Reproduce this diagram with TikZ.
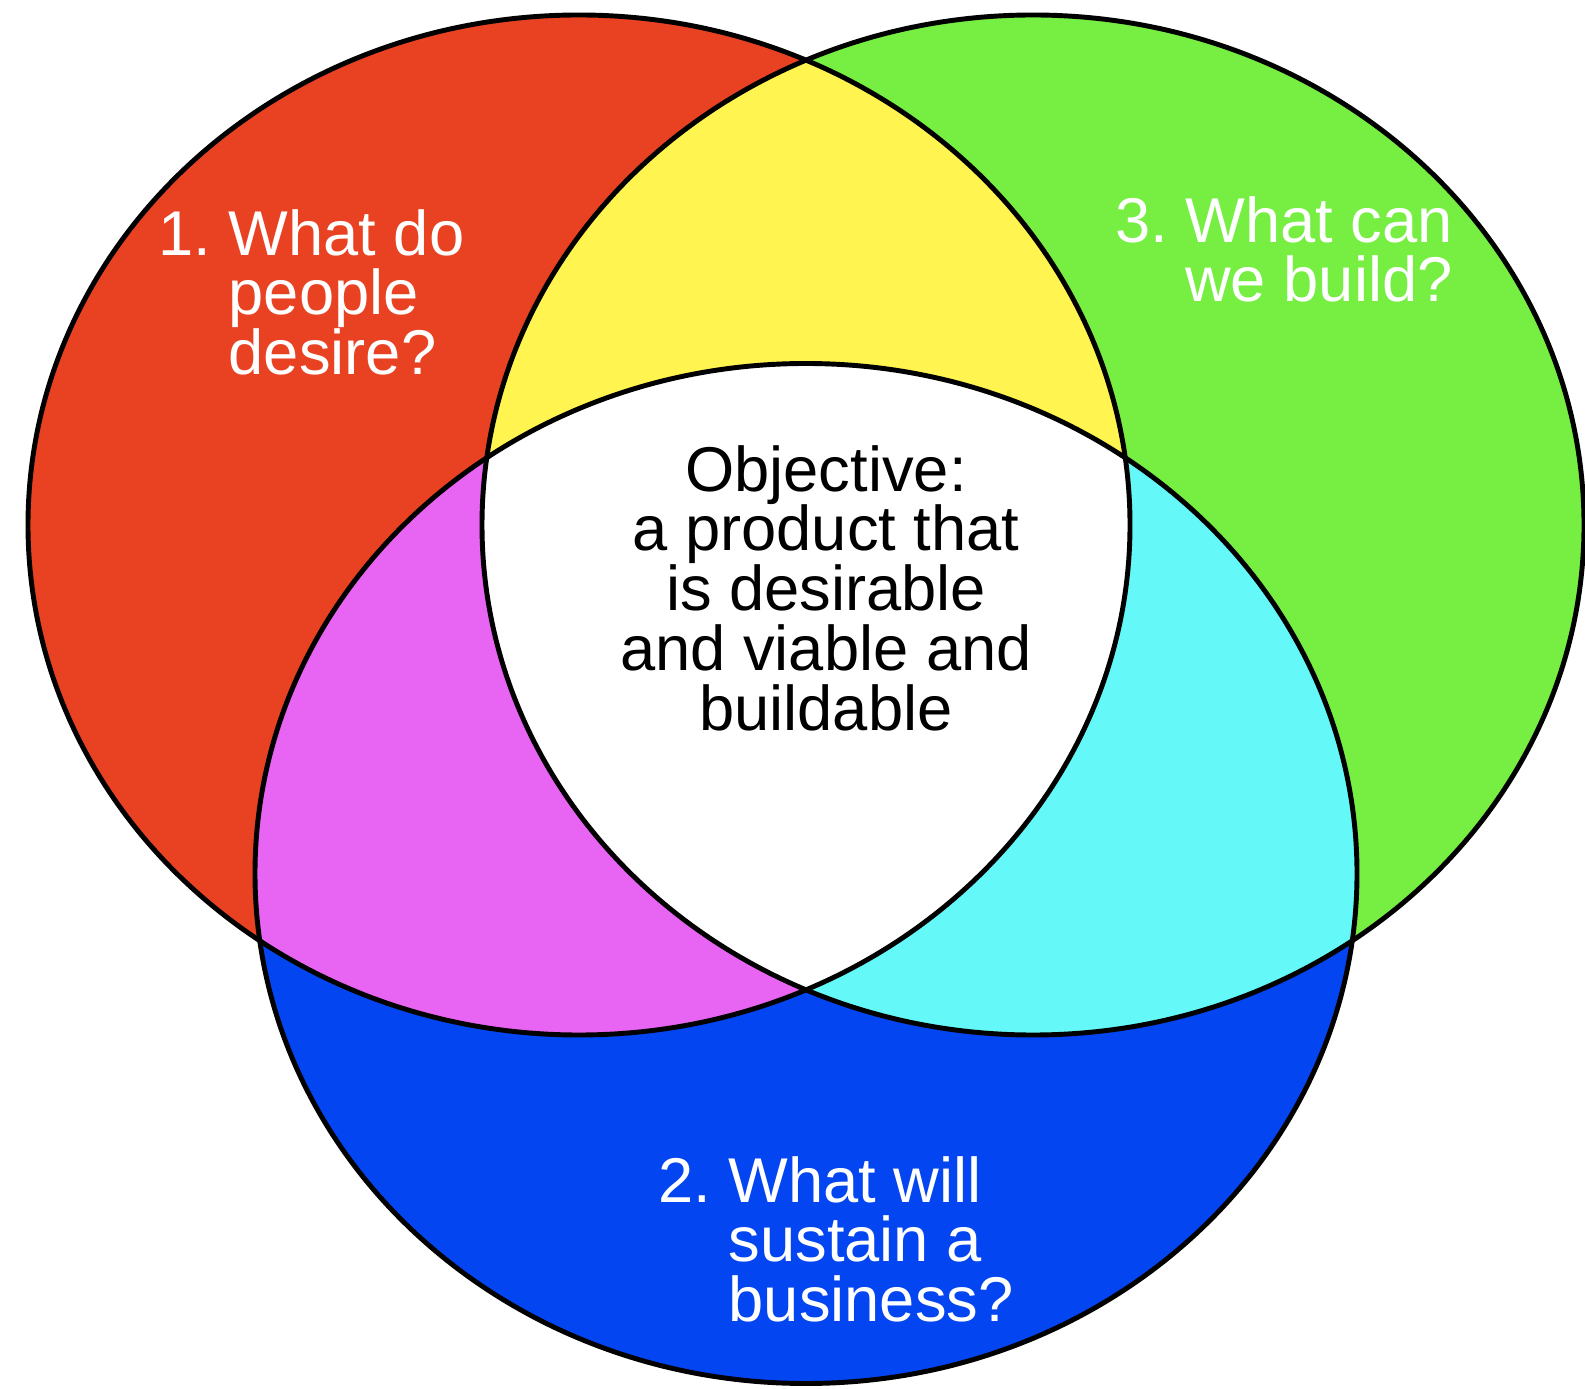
\documentclass[tikz,border=0pt]{standalone}
\usepackage{fontspec}
\setmainfont{Liberation Sans}
\usepackage{tikz}

\definecolor{desirered}{HTML}{E94222}
\definecolor{buildgreen}{HTML}{76EE42}
\definecolor{viableblue}{HTML}{0445F2}
\definecolor{overlapyellow}{HTML}{FFF450}
\definecolor{overlapmagenta}{HTML}{E864F2}
\definecolor{overlapcyan}{HTML}{64F8F8}

\def\desirecirc{(5.79,8.63) ellipse [x radius=5.51, y radius=5.10]}
\def\buildcirc{(10.33,8.63) ellipse [x radius=5.51, y radius=5.10]}
\def\viablecirc{(8.06,5.145) ellipse [x radius=5.51, y radius=5.10]}

\begin{document}
\begin{tikzpicture}[thick,
    ring/.style={draw=black, line width=1.4pt},
    question/.style={text=white, inner sep=0pt,
        font=\fontsize{18}{17}\selectfont\frenchspacing}]

    \useasboundingbox (0,0) rectangle (15.85,13.88);

    % Circles
    \fill[desirered] \desirecirc;
    \fill[buildgreen] \buildcirc;
    \fill[viableblue] \viablecirc;

    % Overlaps
    \begin{scope}
        \clip \desirecirc;
        \fill[overlapyellow] \buildcirc;
        \fill[overlapmagenta] \viablecirc;
    \end{scope}
    \begin{scope}
        \clip \buildcirc;
        \fill[overlapcyan] \viablecirc;
    \end{scope}
    \begin{scope}
        \clip \desirecirc;
        \clip \buildcirc;
        \fill[white] \viablecirc;
    \end{scope}

    \draw[ring] \desirecirc;
    \draw[ring] \buildcirc;
    \draw[ring] \viablecirc;

    % Labels
    \node[question, anchor=north west, align=left] (desire) at (1.57,11.80)
        {1. What do\\\hphantom{1. }people\\\hphantom{1. }desire?};
    \node[question, anchor=north east, align=right] (build) at (14.54,11.93)
        {3. What can\\we build?};
    \node[question, anchor=north west, align=left] (viable) at (6.57,2.33)
        {2. What will\\\hphantom{2. }sustain a\\\hphantom{2. }business?};
    \node[question, text=black, anchor=north, align=center] (objective) at (8.26,9.44)
        {Objective:\\a product that\\is desirable\\and viable and\\buildable};

\end{tikzpicture}
\end{document}
